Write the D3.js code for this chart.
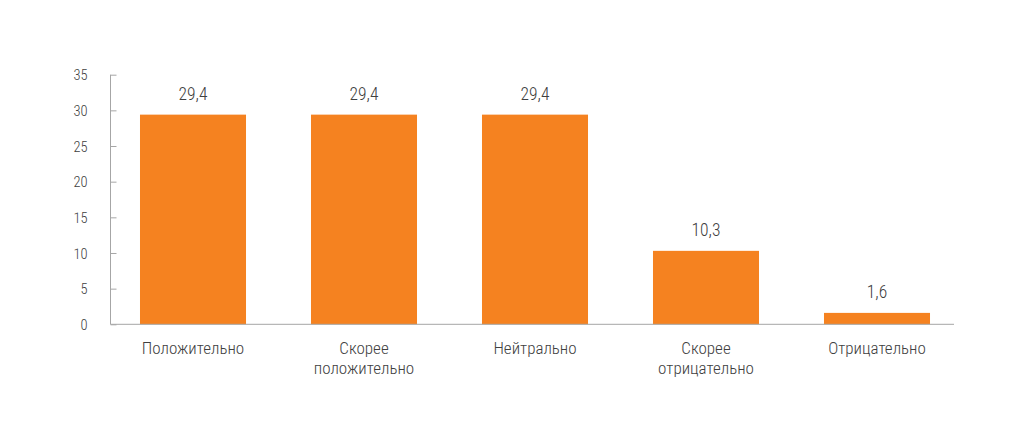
<!DOCTYPE html>
<html><head><meta charset="utf-8">
<script src="https://cdn.jsdelivr.net/npm/d3@7"></script>
<style>
html,body{margin:0;padding:0;background:#fff;}
svg text{font-family:"Roboto Condensed","Liberation Sans Narrow","DejaVu Sans Condensed",Roboto,sans-serif;fill:#404040;}
</style></head>
<body>
<svg id="chart" width="1024" height="445"></svg>
<script>
const categories = ["Положительно", "Скорее положительно", "Нейтрально", "Скорее отрицательно", "Отрицательно"];
const categoryLines = [["Положительно"], ["Скорее", "положительно"], ["Нейтрально"], ["Скорее", "отрицательно"], ["Отрицательно"]];
const values = [29.4, 29.4, 29.4, 10.3, 1.6];
const valueLabels = ["29,4", "29,4", "29,4", "10,3", "1,6"];
const yTicks = [0, 5, 10, 15, 20, 25, 30, 35];

const svg = d3.select("#chart");
const x = d3.scaleBand().domain(categories).range([107.5, 962.5]).paddingInner(0.38).paddingOuter(0.19);
const y = d3.scaleLinear().domain([0, 35]).range([324.3, 74.7]);
const axisX0 = 110.5, axisX1 = 954;

// y axis
const yAxis = d3.axisLeft(y).tickValues(yTicks).tickSize(-6).tickPadding(0).tickFormat(d => d);
const yg = svg.append("g").attr("transform", `translate(${axisX0},0)`).call(yAxis);
yg.select(".domain").remove();
yg.selectAll(".tick line").attr("stroke", "#a6a6a6");
yg.selectAll(".tick text").attr("x", -23).attr("text-anchor", "end").attr("font-size", 14.5).attr("font-weight", 300).attr("fill", "#404040").attr("dy", "0.35em");
svg.append("line").attr("x1", axisX0).attr("x2", axisX0).attr("y1", y(35)).attr("y2", y(0)).attr("stroke", "#a6a6a6");

// bars
svg.selectAll("rect.bar").data(values).join("rect").attr("class", "bar")
  .attr("x", (d, i) => x(categories[i])).attr("width", x.bandwidth())
  .attr("y", d => y(d)).attr("height", d => y(0) - y(d)).attr("fill", "#F58220");

// baseline
svg.append("line").attr("x1", axisX0).attr("x2", axisX1).attr("y1", y(0)).attr("y2", y(0)).attr("stroke", "#a6a6a6");

// value labels
svg.selectAll("text.val").data(values).join("text").attr("class", "val")
  .attr("x", (d, i) => x(categories[i]) + x.bandwidth() / 2)
  .attr("y", d => y(d) - 15).attr("text-anchor", "middle")
  .attr("font-size", 17.5).attr("font-weight", 300).text((d, i) => valueLabels[i]);

// category labels
const cg = svg.selectAll("text.cat").data(categories).join("text").attr("class", "cat")
  .attr("x", d => x(d) + x.bandwidth() / 2).attr("y", 354)
  .attr("text-anchor", "middle").attr("font-size", 17).attr("font-weight", 300);
cg.each(function(d, i) {
  d3.select(this).selectAll("tspan").data(categoryLines[i]).join("tspan")
    .attr("x", x(d) + x.bandwidth() / 2).attr("dy", (t, j) => j === 0 ? 0 : 20).text(t => t);
});
</script>
</body></html>
